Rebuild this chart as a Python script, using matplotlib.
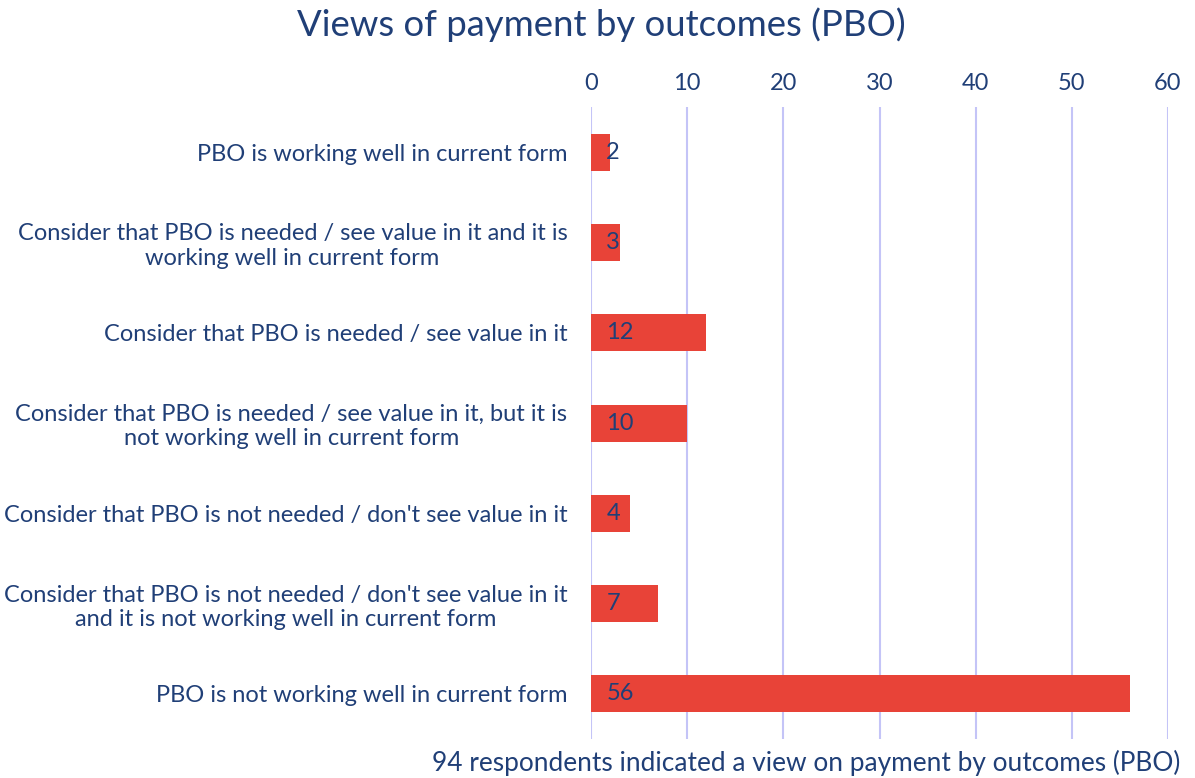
import numpy as np
import matplotlib.pyplot as plt

plt.rcParams['font.family'] = ['Lato', 'DejaVu Sans']

labels = [
    "PBO is working well in current form",
    "Consider that PBO is needed / see value in it and it is\nworking well in current form",
    "Consider that PBO is needed / see value in it",
    "Consider that PBO is needed / see value in it, but it is\nnot working well in current form",
    "Consider that PBO is not needed / don't see value in it",
    "Consider that PBO is not needed / don't see value in it\nand it is not working well in current form",
    "PBO is not working well in current form",
]
values = [2, 3, 12, 10, 4, 7, 56]
ticks = [0, 10, 20, 30, 40, 50, 60]

text_color = '#203f77'
bar_color = '#e84338'
grid_color = '#c4c4f7'

fig = plt.figure(figsize=(11.95, 7.78), dpi=100)
ax = fig.add_axes([0.4946, 0.050, 0.4828, 0.8125])

y = np.arange(len(values))
bars = ax.barh(y, values, height=0.41, color=bar_color, zorder=2)
ax.set_ylim(len(values) - 0.5, -0.5)
ax.set_xlim(0, 60)
ax.set_xticks(ticks)
ax.xaxis.tick_top()
ax.set_yticks(y)
ax.set_yticklabels(labels)
for lab in ax.get_yticklabels():
    lab.set_multialignment('center')
ax.tick_params(axis='both', length=0, labelsize=17, colors=text_color)
ax.tick_params(axis='y', pad=17)
ax.tick_params(axis='x', pad=9)
ax.grid(axis='x', color=grid_color, linewidth=1.5, zorder=0)
for s in ax.spines.values():
    s.set_visible(False)

# value labels inside the bars
for rect, v in zip(bars, values):
    ax.annotate(str(v), xy=(0, rect.get_y() + rect.get_height() / 2),
                xytext=(11, 0), textcoords='offset points',
                ha='left', va='center', fontsize=17, color=text_color, zorder=3)

fig.text(0.503, 0.968, 'Views of payment by outcomes (PBO)', ha='center', va='center',
         fontsize=26.3, color=text_color)
fig.text(0.988, 0.019, '94 respondents indicated a view on payment by outcomes (PBO)',
         ha='right', va='center', fontsize=18.9, color=text_color)

fig.savefig('out.png', dpi=100)
